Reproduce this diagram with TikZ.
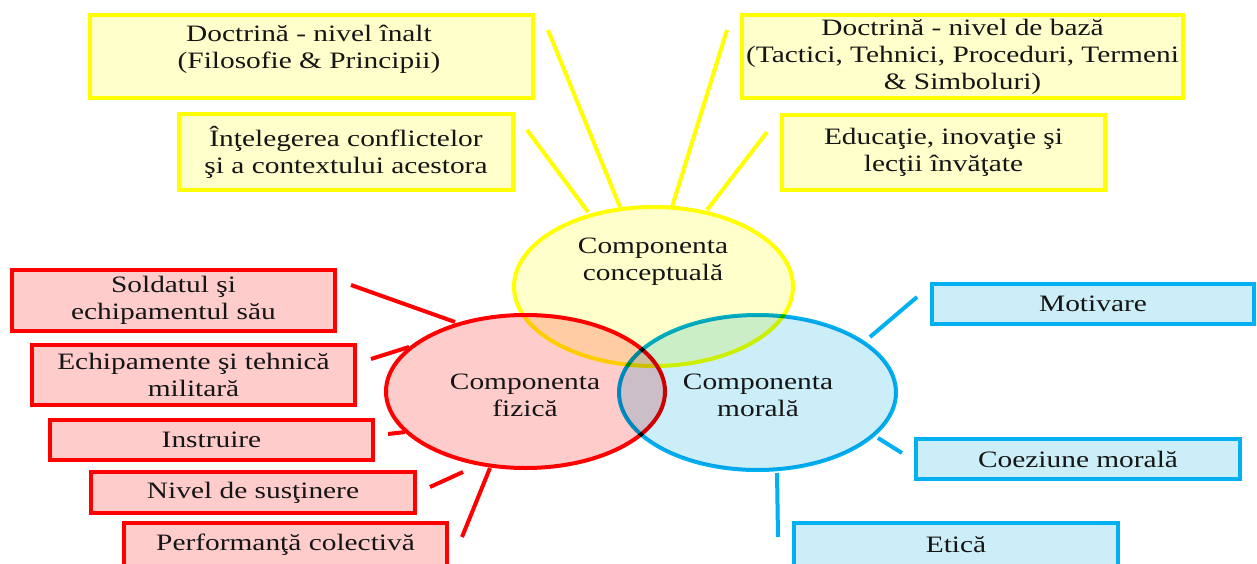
\documentclass[tikz,border=0pt]{standalone}
\usepackage{fontspec}
\setmainfont{Liberation Serif}[FakeStretch=1.25]
\usetikzlibrary{shapes.geometric}
\definecolor{ybord}{HTML}{FFFF00}
\definecolor{yfill}{HTML}{FFFFCC}
\definecolor{rbord}{HTML}{FF0000}
\definecolor{rfill}{HTML}{FFCCCC}
\definecolor{bbord}{HTML}{00B0F0}
\definecolor{bfill}{HTML}{CCEEF8}
\definecolor{txtc}{HTML}{151515}
\begin{document}
\begin{tikzpicture}[x=1pt,y=-1pt,
  every node/.style={font=\fontsize{23.5}{27}\selectfont, text=txtc, align=center},
  boxbase/.style={rectangle, line width=4pt, inner sep=0pt},
  ybox/.style={boxbase, draw=ybord, fill=yfill},
  rbox/.style={boxbase, draw=rbord, fill=rfill},
  bbox/.style={boxbase, draw=bbord, fill=bfill},
  ylink/.style={draw=ybord, line width=4pt},
  rlink/.style={draw=rbord, line width=4pt},
  blink/.style={draw=bbord, line width=4pt},
  comp/.style={ellipse, line width=4pt, inner sep=0pt}
]
\useasboundingbox (0,0) rectangle (1257,564);
\fill[white] (0,0) rectangle (1257,564);
\clip (0,0) rectangle (1257,564);

% yellow boxes
\node[ybox, minimum width=443, minimum height=83] (A) at (311.5,56.5) {};
\node (tA) at (309,49) {Doctrină - nivel înalt\\(Filosofie \& Principii)};
\node[ybox, minimum width=334, minimum height=76] (B) at (346,152) {Înţelegerea conflictelor\\şi a contextului acestora};
\node[ybox, minimum width=441, minimum height=83] (C) at (962.5,56.5) {Doctrină - nivel de bază\\(Tactici, Tehnici, Proceduri, Termeni\\\& Simboluri)};
\node[ybox, minimum width=323, minimum height=75] (D) at (943.5,152.5) {Educaţie, inovaţie şi\\lecţii învăţate};

% red boxes
\node[rbox, minimum width=323, minimum height=61] (R1) at (173.5,300.5) {Soldatul şi\\echipamentul său};
\node[rbox, minimum width=323, minimum height=60] (R2) at (193.5,375) {Echipamente şi tehnică\\militară};
\node[rbox, minimum width=323, minimum height=40] (R3) at (211.5,440) {Instruire};
\node[rbox, minimum width=324, minimum height=41] (R4) at (253,492.5) {Nivel de susţinere};
\node[rbox, minimum width=323, minimum height=44] (R5) at (285.5,545) {Performanţă colectivă};

% blue boxes
\node[bbox, minimum width=322, minimum height=40] (B1) at (1093,304) {Motivare};
\node[bbox, minimum width=324, minimum height=40] (B2) at (1078,459) {Coeziune morală};
\node[bbox, minimum width=324, minimum height=44] (B3) at (956,545) {Etică};

% connector end points
\coordinate (a1) at (527,130); \coordinate (a2) at (588,212);
\coordinate (b1) at (548,30);  \coordinate (b2) at (620,207);
\coordinate (c1) at (727,30);  \coordinate (c2) at (672,207);
\coordinate (d1) at (767,132); \coordinate (d2) at (707,210);
\coordinate (r11) at (351,285); \coordinate (r12) at (455,322);
\coordinate (r21) at (371,359); \coordinate (r22) at (409,347);
\coordinate (r31) at (388,434); \coordinate (r32) at (405,432);
\coordinate (r41) at (430,487); \coordinate (r42) at (463,472);
\coordinate (r51) at (462,537); \coordinate (r52) at (490,468);
\coordinate (m11) at (917,297); \coordinate (m12) at (870,337);
\coordinate (m21) at (878,438); \coordinate (m22) at (902,453);
\coordinate (m31) at (777,473); \coordinate (m32) at (778,537);

\draw[ylink] (a1) -- (a2);
\draw[ylink] (b1) -- (b2);
\draw[ylink] (c1) -- (c2);
\draw[ylink] (d1) -- (d2);
\draw[rlink] (r11) -- (r12);
\draw[rlink] (r21) -- (r22);
\draw[rlink] (r31) -- (r32);
\draw[rlink] (r41) -- (r42);
\draw[rlink] (r51) -- (r52);
\draw[blink] (m11) -- (m12);
\draw[blink] (m21) -- (m22);
\draw[blink] (m31) -- (m32);

% components
\begin{scope}[blend mode=multiply]
\node[comp, draw=ybord, fill=yfill, minimum width=279, minimum height=159] (EY) at (653.5,286.5) {};
\node[comp, draw=rbord, fill=rfill, minimum width=279, minimum height=153] (ER) at (525.5,391.5) {};
\node[comp, draw=bbord, fill=bfill, minimum width=277, minimum height=155] (EB) at (757.5,392.5) {};
\end{scope}
\node (tY) at (653,262) {Componenta\\conceptuală};
\node (tR) at (525,395) {Componenta\\fizică};
\node (tB) at (758,395) {Componenta\\morală};
\end{tikzpicture}
\end{document}
